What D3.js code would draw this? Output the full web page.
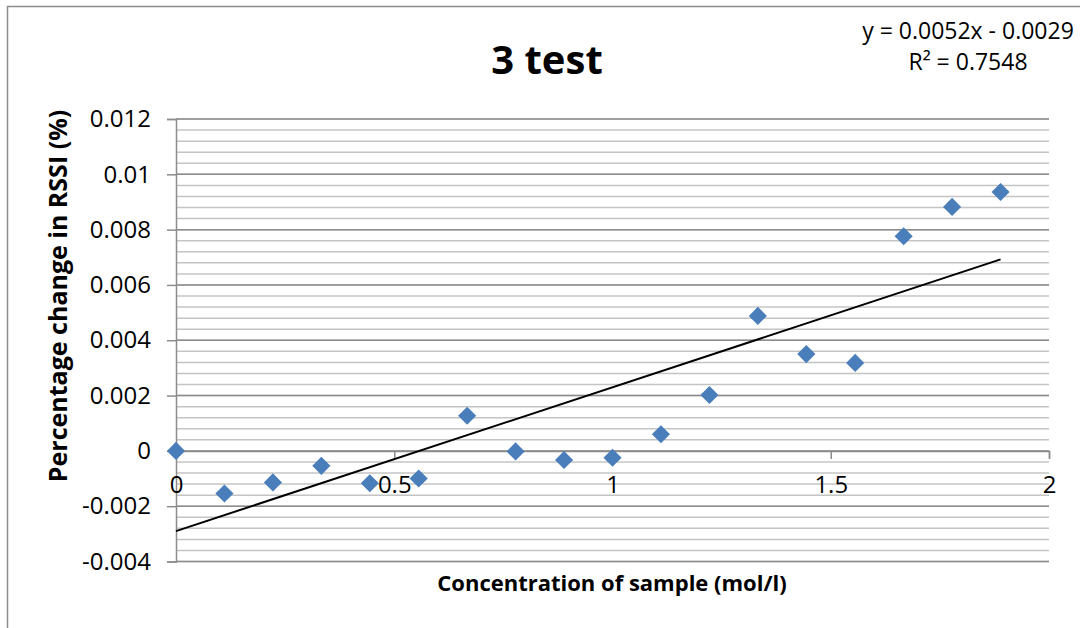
<!DOCTYPE html>
<html>
<head>
<meta charset="utf-8">
<script src="https://cdn.jsdelivr.net/npm/d3@7"></script>
<style>
    body { margin: 0; background: #fff; }
    text { font-family: "Open Sans", "Noto Sans", sans-serif; fill: #000; }
</style>
</head>
<body>
<div id="chart"></div>
<script>
// values
var concentration = [0, 0.111, 0.222, 0.333, 0.444, 0.556, 0.667, 0.778, 0.889,
    1.0, 1.111, 1.222, 1.333, 1.444, 1.556, 1.667, 1.778, 1.889];
var rssiChange = [0, -0.00154, -0.00114, -0.00054, -0.00117, -0.001, 0.00127, -0.00002, -0.00033,
    -0.00025, 0.0006, 0.00202, 0.00488, 0.0035, 0.00318, 0.00776, 0.00882, 0.00936];
var yTicks = [-0.004, -0.002, 0, 0.002, 0.004, 0.006, 0.008, 0.01, 0.012];
var xTicks = [0, 0.5, 1, 1.5, 2];
var trendSlope = 0.0052;
var trendIntercept = -0.0029;
var trendLabel = ["y = 0.0052x - 0.0029", "R² = 0.7548"];

var W = 1080, H = 628;
var margin = { top: 119, right: 31, bottom: 66.5, left: 176 };
var width = W - margin.left - margin.right;
var height = H - margin.top - margin.bottom;

// excel style number, plain hyphen for negatives
function fmt(d) {
    return String(+d.toFixed(3));
}

var svg = d3.select("#chart").append("svg")
    .attr("width", W)
    .attr("height", H);

// chart frame
svg.append("rect")
    .attr("x", 7.5).attr("y", 6.5)
    .attr("width", 1200).attr("height", 800)
    .attr("fill", "none")
    .attr("stroke", "#8c8c8c")
    .attr("stroke-width", 1.5);

var g = svg.append("g")
    .attr("transform", "translate(" + margin.left + "," + margin.top + ")");

var x = d3.scaleLinear().domain([0, 2]).range([0, width]);
var y = d3.scaleLinear().domain([-0.004, 0.012]).range([height, 0]);

// minor gridlines every 0.0004
var minor = d3.range(-0.004, 0.01201, 0.0004);
g.selectAll(".minor").data(minor).enter().append("line")
    .attr("x1", 0).attr("x2", width)
    .attr("y1", function (d) { return y(d); })
    .attr("y2", function (d) { return y(d); })
    .attr("stroke", "#c4c4c4")
    .attr("stroke-width", 1.5);

// major gridlines
g.selectAll(".major").data(yTicks).enter().append("line")
    .attr("x1", 0).attr("x2", width)
    .attr("y1", function (d) { return y(d); })
    .attr("y2", function (d) { return y(d); })
    .attr("stroke", "#8c8c8c")
    .attr("stroke-width", 1.5);

// y axis
var yAxis = g.append("g")
    .call(d3.axisLeft(y).tickValues(yTicks).tickSize(9).tickPadding(16).tickFormat(fmt));
yAxis.select(".domain").attr("stroke", "#8c8c8c").attr("stroke-width", 1.5);
yAxis.selectAll(".tick line").attr("stroke", "#8c8c8c").attr("stroke-width", 1.5);
yAxis.selectAll("text").attr("font-size", "24px")
    .attr("font-family", "'Open Sans', sans-serif").attr("fill", "#000");

// x axis through zero
var xAxis = g.append("g")
    .attr("transform", "translate(0," + y(0) + ")")
    .call(d3.axisBottom(x).tickValues(xTicks).tickSize(8).tickPadding(17).tickFormat(fmt));
xAxis.select(".domain").attr("stroke", "#8c8c8c").attr("stroke-width", 1.5);
xAxis.selectAll(".tick line").attr("stroke", "#8c8c8c").attr("stroke-width", 1.5);
xAxis.selectAll("text").attr("font-size", "24px")
    .attr("font-family", "'Open Sans', sans-serif").attr("fill", "#000");

// linear trendline
var xMax = d3.max(concentration);
g.append("line")
    .attr("x1", x(0)).attr("y1", y(trendIntercept))
    .attr("x2", x(xMax)).attr("y2", y(trendSlope * xMax + trendIntercept))
    .attr("stroke", "#000")
    .attr("stroke-width", 2);

// points
var data = concentration.map(function (c, i) { return { c: c, v: rssiChange[i] }; });
g.selectAll(".pt").data(data).enter().append("path")
    .attr("d", d3.symbol().type(d3.symbolDiamond2).size(210))
    .attr("transform", function (d) { return "translate(" + x(d.c) + "," + y(d.v) + ")"; })
    .attr("fill", "#4a7ebb");

// titles
svg.append("text")
    .attr("x", 547).attr("y", 58)
    .attr("text-anchor", "middle")
    .attr("dominant-baseline", "central")
    .attr("font-size", "40px")
    .attr("font-weight", "bold")
    .text("3 test");

svg.append("text")
    .attr("x", 612).attr("y", 582)
    .attr("text-anchor", "middle")
    .attr("dominant-baseline", "central")
    .attr("font-size", "22px")
    .attr("font-weight", "bold")
    .text("Concentration of sample (mol/l)");

svg.append("text")
    .attr("transform", "translate(57,296) rotate(-90)")
    .attr("text-anchor", "middle")
    .attr("dominant-baseline", "central")
    .attr("font-size", "25px")
    .attr("font-weight", "bold")
    .text("Percentage change in RSSI (%)");

// trendline equation
svg.selectAll(".eq").data(trendLabel).enter().append("text")
    .attr("x", 968)
    .attr("y", function (d, i) { return 30 + i * 31; })
    .attr("text-anchor", "middle")
    .attr("dominant-baseline", "central")
    .attr("font-size", "23px")
    .text(function (d) { return d; });
</script>
</body>
</html>
